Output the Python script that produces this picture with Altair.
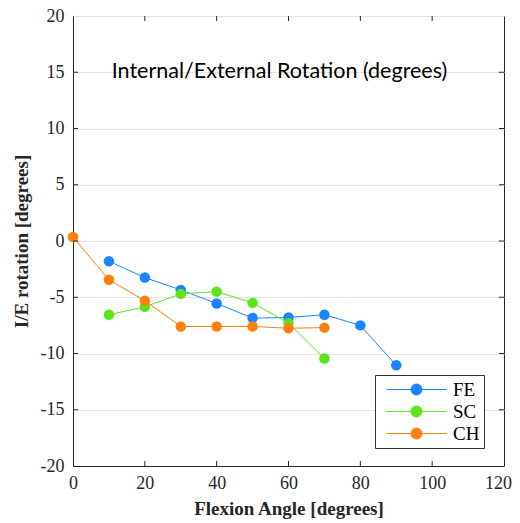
import altair as alt
import pandas as pd

# ---- data ----
fe_angle = [10, 20, 30, 40, 50, 60, 70, 80, 90]
fe_rot = [-1.8, -3.25, -4.35, -5.55, -6.85, -6.8, -6.55, -7.5, -11.05]
sc_angle = [10, 20, 30, 40, 50, 60, 70]
sc_rot = [-6.55, -5.85, -4.7, -4.5, -5.5, -7.3, -10.45]
ch_angle = [0, 10, 20, 30, 40, 50, 60, 70]
ch_rot = [0.35, -3.45, -5.3, -7.6, -7.6, -7.6, -7.75, -7.7]

series_names = ["FE", "SC", "CH"]
series_colors = ["#1a85ff", "#5ce619", "#ff800e"]

x_ticks = [0, 20, 40, 60, 80, 100, 120]
y_ticks = [-20, -15, -10, -5, 0, 5, 10, 15, 20]

rows = []
for name, xs, ys in [("FE", fe_angle, fe_rot), ("SC", sc_angle, sc_rot), ("CH", ch_angle, ch_rot)]:
    for i, (a, r) in enumerate(zip(xs, ys)):
        rows.append({"series": name, "angle": a, "rot": r, "order": i})
df = pd.DataFrame(rows)

serif = "Liberation Serif"
txt_color = "#262626"

xscale = alt.Scale(domain=[0, 120], nice=False)
yscale = alt.Scale(domain=[-20, 20], nice=False)
cscale = alt.Scale(domain=series_names, range=series_colors)

ax_style = dict(labelFont=serif, labelFontSize=18, labelColor=txt_color,
                titleFont=serif, titleFontSize=19, titleFontWeight="bold",
                titleColor=txt_color, domainColor=txt_color, tickSize=0,
                labelFlush=False, labelExpr="datum.value + ''")
x_axis = alt.Axis(values=x_ticks, title="Flexion Angle [degrees]", grid=False,
                  labelPadding=8, titlePadding=7,
                  labelOffset={"condition": {"test": "datum.value == 120", "value": -6},
                               "value": 0},
                  **ax_style)
y_axis = alt.Axis(values=y_ticks, title="I/E rotation [degrees]", grid=True,
                  gridColor="#e3e3e3", labelPadding=9, titlePadding=9, **ax_style)


def X(field):
    return alt.X(field, scale=xscale, axis=x_axis)


def Y(field):
    return alt.Y(field, scale=yscale, axis=y_axis)


legend_symbol = "M-3,0H3M0.55,0A0.55,0.55,0,1,1,-0.55,0A0.55,0.55,0,1,1,0.55,0"
leg = alt.Legend(title=None, orient="none", legendX=302, legendY=359,
                 symbolType=legend_symbol, symbolSize=400, symbolStrokeWidth=1,
                 symbolOffset=27, labelOffset=26,
                 labelFont=serif, labelFontSize=19, labelColor="black",
                 strokeColor="#333333", fillColor="white", padding=4, rowPadding=1)
color = alt.Color("series:N", scale=cscale, legend=leg, sort=series_names)

lines = alt.Chart(df).mark_line(strokeWidth=1).encode(
    x=X("angle:Q"), y=Y("rot:Q"),
    detail="series:N",
    order="order:Q",
    color=color,
)

points = alt.Chart(df).mark_circle(size=110, opacity=1).encode(
    x=X("angle:Q"), y=Y("rot:Q"),
    color=color,
)

title_df = pd.DataFrame({"angle": [57.5], "rot": [15.0], "t": ["Internal/External Rotation (degrees)"]})
title = alt.Chart(title_df).mark_text(font="Lato", fontSize=21.5, color="black").encode(
    x=X("angle:Q"), y=Y("rot:Q"), text="t:N")

# inward tick marks on all four sides
xt = pd.DataFrame({"angle": x_ticks[1:-1]})
yt = pd.DataFrame({"rot": y_ticks[1:-1]})
tk = dict(color=txt_color, strokeWidth=1)
t_bottom = alt.Chart(xt).mark_rule(**tk).encode(
    x=X("angle:Q"), y=alt.datum(-20), y2=alt.datum(-19.55))
t_top = alt.Chart(xt).mark_rule(**tk).encode(
    x=X("angle:Q"), y=alt.datum(20), y2=alt.datum(19.55))
t_left = alt.Chart(yt).mark_rule(**tk).encode(
    y=Y("rot:Q"), x=alt.datum(0), x2=alt.datum(1.4))
t_right = alt.Chart(yt).mark_rule(**tk).encode(
    y=Y("rot:Q"), x=alt.datum(120), x2=alt.datum(118.6))

chart = alt.layer(lines, points, title, t_bottom, t_top, t_left, t_right).properties(
    width=431, height=450,
    padding={"left": 65, "top": 8, "right": 8, "bottom": 57},
    autosize="none",
    background="white",
).configure_view(
    stroke=txt_color, strokeWidth=1
)

chart.save("out.html", embed_options={"renderer": "svg", "actions": False})
